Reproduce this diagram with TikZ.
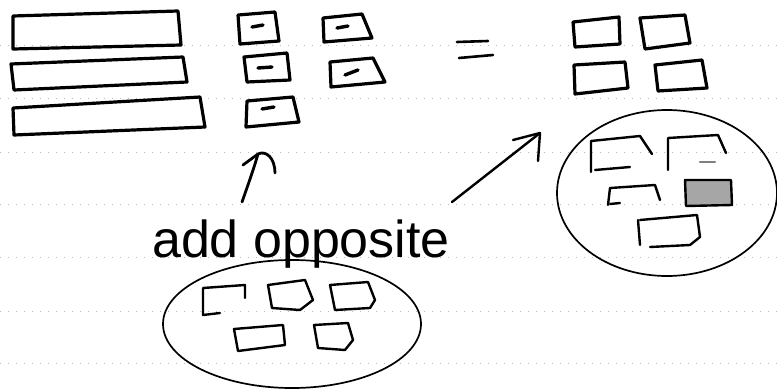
\documentclass[tikz,border=0pt]{standalone}
\usepackage{fontspec}
\usetikzlibrary{shapes.geometric}
\newfontfamily\handfont{Liberation Sans}
\begin{document}
\begin{tikzpicture}[x=1pt,y=-1pt,
  sq/.style={line width=3.2pt,line join=round,line cap=round},
  mk/.style={line width=3.4pt,line cap=round},
  blob/.style={line width=1.7pt},
  pen/.style={line width=2.4pt,line cap=round,line join=round},
  rule/.style={gray!55,line width=0.8pt,dash pattern=on 1pt off 7pt}]
\useasboundingbox (0,0) rectangle (777,391);
% ruled paper
\foreach \yy in {45,98,152,204,257,311,363}
  \draw[rule] (0,\yy) -- (777,\yy);
% wide bars
\draw[sq] (13,16) -- (178,11) -- (181,45) -- (13,49) -- cycle;
\draw[sq] (11,64) -- (183,57) -- (187,82) -- (14,90) -- cycle;
\draw[sq] (13,108) -- (200,97) -- (205,127) -- (14,135) -- cycle;
% small tiles with marks
\draw[sq] (238,15) -- (275,12) -- (279,41) -- (240,44) -- cycle;
\draw[mk] (252,27) -- (263,25);
\draw[sq] (244,57) -- (287,53) -- (290,80) -- (247,82) -- cycle;
\draw[mk] (258,68) -- (272,67);
\draw[sq] (247,101) -- (293,97) -- (299,122) -- (246,127) -- cycle;
\draw[mk] (262,109) -- (274,107);
\draw[sq] (323,18) -- (362,14) -- (372,38) -- (324,42) -- cycle;
\draw[mk] (337,28) -- (348,26);
\draw[sq] (330,62) -- (373,58) -- (385,82) -- (331,87) -- cycle;
\draw[mk] (345,75) -- (358,70);
% equals sign
\draw[pen,line width=2.6pt] (457,42) -- (488,41);
\draw[pen,line width=2.6pt] (459,58) -- (493,55);
% result tiles
\draw[sq] (573,22) -- (619,17) -- (620,44) -- (575,47) -- cycle;
\draw[sq] (640,18) -- (685,15) -- (690,43) -- (645,49) -- cycle;
\draw[sq] (574,65) -- (625,62) -- (628,88) -- (575,94) -- cycle;
\draw[sq] (655,65) -- (702,60) -- (707,88) -- (658,91) -- cycle;
% right blob
\node[draw,ellipse,blob,minimum width=220pt,minimum height=166pt,inner sep=0pt] (rb) at (667,193) {};
\draw[pen] (591,172) -- (591,141) -- (640,136) -- (652,154);
\draw[pen] (595,170) -- (630,167);
\draw[pen] (668,170) -- (668,138) -- (718,135) -- (726,153);
\draw[pen,gray] (700,162) -- (715,162);
\draw[pen] (608,205) -- (610,188) -- (655,185) -- (660,200);
\draw[pen] (610,204) -- (620,203);
\draw[pen,fill=gray!70] (685,180) -- (731,180) -- (732,205) -- (686,206) -- cycle;
\draw[pen] (638,220) -- (640,245);
\draw[pen] (640,220) -- (697,215) -- (700,237) -- (690,245) -- (650,247);
% bottom blob
\node[draw,ellipse,blob,minimum width=258pt,minimum height=128pt,inner sep=0pt] (bb) at (292,324) {};
\draw[pen] (245,298) -- (245,285) -- (203,288) -- (203,315) -- (220,313);
\draw[pen] (268,285) -- (305,280) -- (313,300) -- (300,310) -- (272,308) -- cycle;
\draw[pen] (330,285) -- (368,282) -- (375,300) -- (370,308) -- (335,310) -- cycle;
\draw[pen] (234,329) -- (283,325) -- (285,345) -- (238,351) -- cycle;
\draw[pen] (314,325) -- (348,323) -- (353,340) -- (345,350) -- (318,348) -- cycle;
% label
\node[anchor=base,inner sep=0pt,font=\handfont\fontsize{52}{52}\selectfont] (lbl) at (301,257) {add opposite};
% arrows
\coordinate (upfoot) at (242,202);
\coordinate (uptip) at (258,154);
\coordinate (dgfoot) at (452,202);
\coordinate (dgtip) at (540,133);
\draw[pen,line width=2.8pt] (upfoot) .. controls (248,185) and (254,168) .. (uptip);
\draw[pen,line width=2.8pt] (243,165) -- (uptip) .. controls (266,150) and (275,158) .. (275,173);
\draw[pen] (dgfoot) -- (dgtip);
\draw[pen] (513,140) -- (dgtip) -- (538,161);
\end{tikzpicture}
\end{document}
